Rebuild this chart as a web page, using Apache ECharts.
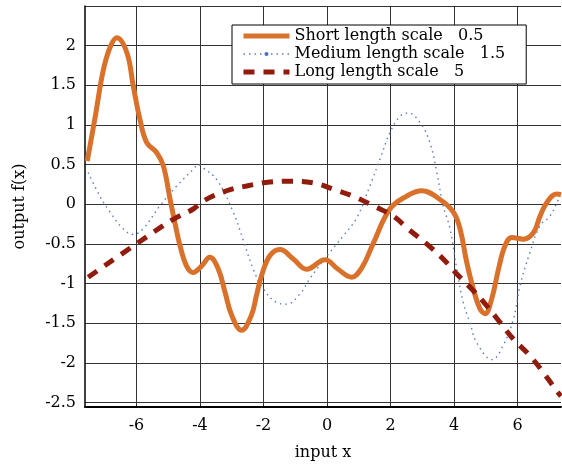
<!DOCTYPE html>
<html>
<head>
<meta charset="utf-8">
<script src="https://cdn.jsdelivr.net/npm/echarts@6/dist/echarts.min.js"></script>
<style>
  html, body { margin: 0; background: #fff; }
  #chart { width: 562px; height: 466px; }
</style>
</head>
<body>
<div id="chart"></div>
<script>
// short length scale 0.5
const shortX = [-7.55, -7.3, -7.05, -6.83, -6.62, -6.3, -6.1, -5.89, -5.68, -5.36, -5.15, -4.94, -4.79, -4.63, -4.42, -4.21, -3.95, -3.69, -3.42, -3.21, -3.0, -2.69, -2.38, -2.22, -2.06, -1.8, -1.48, -1.06, -0.64, -0.06, 0.35, 0.78, 1.1, 1.45, 1.98, 2.5, 2.98, 3.56, 3.98, 4.19, 4.4, 4.61, 4.82, 4.98, 5.19, 5.4, 5.61, 5.82, 6.18, 6.5, 6.71, 6.92, 7.23, 7.37]
const shortY = [0.545, 1.1, 1.68, 1.98, 2.1, 1.91, 1.49, 1.07, 0.78, 0.65, 0.48, 0.06, -0.23, -0.52, -0.78, -0.86, -0.78, -0.67, -0.82, -1.11, -1.4, -1.59, -1.4, -1.15, -0.9, -0.65, -0.57, -0.69, -0.82, -0.7, -0.82, -0.92, -0.8, -0.5, -0.06, 0.1, 0.17, 0.06, -0.1, -0.31, -0.73, -1.07, -1.32, -1.38, -1.19, -0.82, -0.52, -0.42, -0.44, -0.36, -0.15, 0.02, 0.13, 0.12]

// medium length scale 1.5
const mediumX = [-7.52, -7.15, -6.83, -6.42, -6.1, -5.79, -5.26, -4.73, -4.21, -4.05, -3.9, -3.47, -2.95, -2.64, -2.32, -2.0, -1.58, -1.27, -0.85, -0.54, 0, 0.51, 0.94, 1.35, 1.67, 1.98, 2.3, 2.56, 2.93, 3.24, 3.46, 3.66, 3.87, 4.09, 4.29, 4.5, 4.71, 5.2, 5.55, 5.87, 6.08, 6.39, 6.71, 7.02, 7.29, 7.37]
const mediumY = [0.4, 0.1, -0.1, -0.31, -0.38, -0.31, -0.02, 0.23, 0.44, 0.5, 0.46, 0.31, -0.1, -0.45, -0.82, -1.07, -1.24, -1.26, -1.13, -0.94, -0.65, -0.4, -0.17, 0.23, 0.57, 0.9, 1.11, 1.15, 1.03, 0.78, 0.4, -0.02, -0.3, -0.82, -1.24, -1.49, -1.74, -1.96, -1.78, -1.45, -1.03, -0.61, -0.27, -0.15, 0.06, 0.1]

// long length scale 5
const longX = [-7.52, -6.0, -4.84, -4.21, -3.9, -3.16, -2.53, -1.8, -1.17, -0.43, 0.2, 0.83, 1.46, 2.09, 2.55, 3.14, 3.66, 4.09, 4.61, 5.03, 5.45, 5.87, 6.39, 6.81, 7.23, 7.37]
const longY = [-0.92, -0.5, -0.19, -0.06, 0.04, 0.17, 0.23, 0.28, 0.29, 0.27, 0.19, 0.1, -0.02, -0.15, -0.31, -0.5, -0.69, -0.88, -1.09, -1.28, -1.49, -1.7, -1.91, -2.12, -2.35, -2.42]

const seriesNames = ['Short length scale   0.5', 'Medium length scale   1.5', 'Long length scale   5']
const xTicks = [-6, -4, -2, 0, 2, 4, 6]
const yTicks = [-2.5, -2, -1.5, -1, -0.5, 0, 0.5, 1, 1.5, 2]
const yLines = [-2.5, -2, -1.5, -1, -0.5, 0, 0.5, 1, 1.5, 2, 2.5]

const font = 'DejaVu Serif'
const pairs = (xs, ys) => xs.map((x, i) => [x, ys[i]])

const chart = echarts.init(document.getElementById('chart'))

const txt = { fontFamily: font, fontSize: 16, color: '#000' }

chart.setOption({
  animation: false,
  grid: { left: 85, right: 1, top: 6, bottom: 58 },
  legend: {
    orient: 'vertical',
    left: 232,
    top: 25,
    backgroundColor: '#fff',
    borderColor: '#000',
    borderWidth: 1,
    borderRadius: 0,
    padding: [3, 21, 4, 9],
    itemGap: 2,
    itemWidth: 46,
    itemHeight: 5,
    lineStyle: { width: 'inherit' },
    textStyle: txt,
    data: seriesNames,
  },
  xAxis: {
    type: 'value',
    min: -7.62,
    max: 7.37,
    name: 'input x',
    nameLocation: 'middle',
    nameGap: 38,
    nameTextStyle: txt,
    axisLine: { show: true, onZero: false, lineStyle: { color: '#000', width: 2 } },
    axisTick: { show: false, customValues: xTicks },
    axisLabel: { customValues: xTicks, margin: 11, ...txt },
    splitLine: { show: true, lineStyle: { color: '#333', width: 1 } },
  },
  yAxis: {
    type: 'value',
    min: -2.557,
    max: 2.5,
    name: 'output f(x)',
    nameLocation: 'middle',
    nameGap: 57,
    nameTextStyle: txt,
    axisLine: { show: true, onZero: false, lineStyle: { color: '#000', width: 1.5 } },
    axisTick: { show: false, customValues: yLines },
    axisLabel: { customValues: yTicks, margin: 9, ...txt },
    splitLine: { show: true, lineStyle: { color: '#333', width: 1 } },
  },
  series: [
    {
      name: seriesNames[0],
      type: 'line',
      data: pairs(shortX, shortY),
      smooth: 0.4,
      symbol: 'none',
      itemStyle: { color: '#d9712b', opacity: 0 },
      lineStyle: { color: '#d9712b', width: 5 },
      z: 3,
    },
    {
      name: seriesNames[1],
      type: 'line',
      data: pairs(mediumX, mediumY),
      smooth: 0.4,
      symbol: 'circle',
      showSymbol: false,
      itemStyle: { color: '#4a6fbf' },
      lineStyle: { color: '#5a7cc6', width: 1.4, type: [1.5, 4] },
      z: 2,
    },
    {
      name: seriesNames[2],
      type: 'line',
      data: pairs(longX, longY),
      smooth: 0.4,
      symbol: 'none',
      itemStyle: { color: '#911b0c', opacity: 0 },
      lineStyle: { color: '#911b0c', width: 5, type: [11, 9] },
      z: 4,
    },
  ],
})
</script>
</body>
</html>
